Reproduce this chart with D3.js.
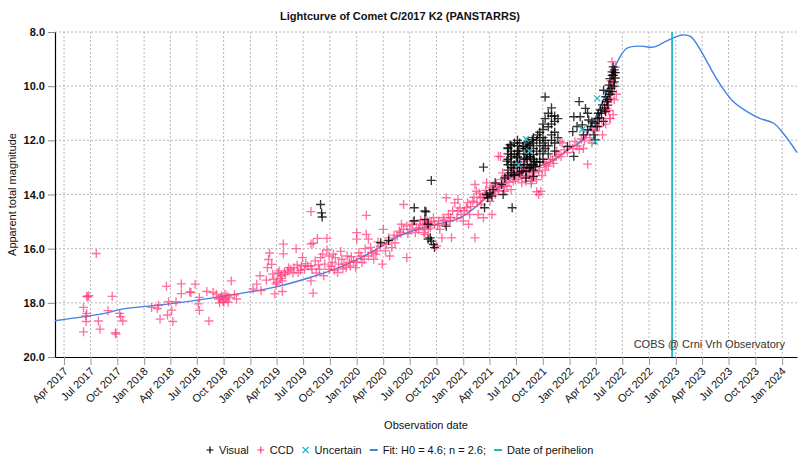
<!DOCTYPE html>
<html><head><meta charset="utf-8">
<script src="https://cdn.jsdelivr.net/npm/d3@7/dist/d3.min.js"></script>
<style>
body{margin:0;background:#fff;}
text{font-family:"Liberation Sans",Arial,Helvetica,sans-serif;}
</style>
</head><body>
<svg id="chart" width="800" height="466"></svg>
<script>
// ---------- data (decimal year, apparent magnitude) ----------
const titleText = "Lightcurve of Comet C/2017 K2 (PANSTARRS)";
const yTicks = [8, 10, 12, 14, 16, 18, 20];
const xDomain = ["2017-03-01", "2024-02-21"];
const perihelionDate = "2022-12-19";
const legendLabels = ["Visual", "CCD", "Uncertain", "Fit: H0 = 4.6; n = 2.6;", "Date of perihelion"];
const creditText = "COBS @ Crni Vrh Observatory";

const fitCurve = [
[2017.16,18.66],[2017.65,18.37],[2017.78,18.24],[2018.28,18.02],[2018.91,17.65],[2019.22,17.43],[2019.53,17.10],
[2019.85,16.67],[2020.16,16.08],[2020.38,15.56],[2020.55,15.31],[2020.72,15.13],[2020.96,14.88],[2021.08,14.57],
[2021.21,14.15],[2021.44,13.40],[2021.85,12.73],[2021.98,12.36],[2022.12,12.0],[2022.26,11.0],[2022.37,10.0],
[2022.45,9.1],[2022.54,8.6],[2022.67,8.52],[2022.79,8.56],[2022.92,8.32],[2023.06,8.11],[2023.14,8.17],
[2023.23,8.66],[2023.39,9.77],[2023.54,10.57],[2023.67,10.94],[2023.79,11.19],[2023.92,11.37],[2024.01,11.74],[2024.14,12.45]
];

const ccd = [
[2017.55,16.18],[2017.46,17.76],[2017.48,17.74],[2017.47,17.78],[2017.70,17.76],[2017.43,18.17],[2017.46,18.39],[2017.45,18.48],
[2017.455,18.69],[2017.43,19.07],[2017.57,18.67],[2017.585,18.97],[2017.66,18.29],[2017.77,18.39],[2017.78,18.51],[2017.80,18.67],
[2017.73,19.1],[2017.735,19.15],
[2018.07,18.17],[2018.135,18.09],[2018.125,18.21],[2018.15,18.6],[2018.22,18.45],[2018.26,18.27],[2018.27,18.69],[2018.21,17.39],
[2018.35,17.3],[2018.35,17.66],[2018.30,17.96],[2018.23,17.96],[2018.43,17.6],
[2018.48,17.31],[2018.44,17.62],[2018.52,17.8],[2018.51,18.04],[2018.52,18.28],[2018.61,18.67],[2018.59,17.58],[2018.65,17.62],
[2018.68,17.68],[2018.70,17.86],[2018.73,17.74],[2018.74,17.92],[2018.76,17.68],[2018.77,17.86],[2018.79,17.98],[2018.82,17.19],
[2018.85,17.70],[2018.87,17.86],[2018.80,17.8],[2018.75,17.98],[2018.71,18.0],[2018.78,17.75],[2018.72,17.82],
[2019.025,17.49],[2019.06,17.31],[2019.09,17.0],[2019.10,17.55],[2019.15,17.16],[2019.17,16.4],[2019.2,16.58],[2019.18,16.16],
[2019.16,16.7],[2019.21,16.94],[2019.22,17.13],[2019.24,17.31],[2019.27,16.82],[2019.29,17.0],[2019.30,17.19],[2019.32,16.88],
[2019.31,15.83],[2019.31,16.19],[2019.35,16.82],[2019.38,16.76],[2019.41,16.7],[2019.43,16.0],[2019.45,16.88],[2019.48,16.64],
[2019.49,16.33],[2019.51,16.76],[2019.54,16.64],[2019.57,15.83],[2019.58,16.76],[2019.57,17.19],[2019.23,17.67],[2019.30,17.58],
[2019.25,17.25],[2019.33,16.95],[2019.36,16.7],[2019.40,16.9],[2019.44,16.6],[2019.47,16.8],[2019.52,16.55],[2019.28,17.1],[2019.26,16.9],
[2019.57,14.63],[2019.57,16.64],[2019.61,16.45],[2019.65,16.76],[2019.66,16.33],[2019.69,17.0],[2019.70,16.57],[2019.74,16.27],
[2019.74,16.76],[2019.77,16.51],[2019.80,16.33],[2019.82,16.88],[2019.83,16.57],[2019.86,16.39],[2019.88,16.57],[2019.91,16.27],
[2019.94,16.64],[2019.97,16.45],[2019.72,15.62],[2019.63,15.62],[2019.59,15.8],[2019.59,17.64],[2019.62,16.9],[2019.68,16.2],
[2019.72,16.05],[2019.78,16.2],[2019.85,16.1],[2019.9,16.7],[2019.95,16.3],
[2019.64,16.6],[2019.76,16.65],[2019.79,16.8],[2019.87,16.75],[2019.93,16.5],[2019.99,16.7],
[2020.0,16.5],[2020.02,16.15],[2020.08,16.0],[2020.13,15.95],[2020.18,16.2],[2020.2,15.75],[2020.3,15.6],[2020.35,15.5],
[2020.42,15.1],[2020.48,15.45],[2020.53,15.0],[2020.58,15.3],[2020.6,14.95],[2020.62,15.15],[2020.66,15.1],
[2020.09,14.77],[2020.0,15.41],[2020.0,15.65],[2020.09,15.47],[2020.11,15.65],[2020.25,15.29],[2020.44,14.37],[2020.40,15.35],
[2020.31,16.27],[2020.24,16.57],[2020.47,16.33],
[2020.04,16.27],[2020.05,16.51],[2020.07,16.39],[2020.11,16.27],[2020.14,16.15],[2020.16,16.39],[2020.19,16.08],[2020.22,15.9],
[2020.27,16.08],[2020.28,15.84],[2020.33,15.96],[2020.36,15.78],[2020.38,15.53],[2020.41,15.41],[2020.44,15.29],[2020.47,15.16],
[2020.50,15.29],[2020.52,15.1],[2020.55,15.41],[2020.56,15.23],[2020.59,15.1],[2020.63,15.41],[2020.64,15.23],[2020.67,15.29],[2020.67,15.04],
[2020.64,15.47],[2020.66,14.98],[2020.69,15.23],[2020.72,14.86],[2020.73,15.1],[2020.75,15.9],[2020.77,14.98],[2020.78,15.29],
[2020.80,15.6],[2020.81,14.86],[2020.83,15.1],[2020.84,14.12],[2020.86,14.74],[2020.875,14.98],[2020.89,15.6],[2020.92,14.31],
[2020.94,14.86],[2020.95,14.61],[2020.95,14.18],[2020.98,14.74],[2021.0,14.98],[2021.03,14.49],[2021.05,15.1],[2021.06,14.74],
[2021.09,14.25],[2021.11,13.63],[2021.11,15.6],[2021.125,13.88],[2021.14,14.74],[2021.16,14.12],[2021.17,14.37],[2021.19,14.86],
[2021.20,14.0],[2021.22,13.57],[2021.25,14.25],[2021.27,14.74],[2021.28,13.69],[2021.30,14.0],[2021.33,12.59],[2021.34,13.75],
[2021.375,13.57],[2021.39,13.88],[2021.41,13.69],[2021.44,13.33],[2021.45,13.82],[2021.47,13.51],[2021.48,13.2],[2021.5,13.02],
[2021.52,13.39],[2021.53,12.83],[2021.55,13.57],[2021.56,13.14],[2021.58,12.77],[2021.59,13.33],[2021.61,13.02],[2021.625,12.59],
[2021.64,13.51],[2021.66,13.14],
[2020.70,15.0],[2020.76,15.15],[2020.82,14.95],[2020.88,14.85],[2020.9,14.6],[2020.97,14.5],[2021.01,14.6],[2021.04,14.3],
[2021.07,14.45],[2021.1,14.1],[2021.13,14.3],[2021.15,13.95],[2021.18,14.1],[2021.21,13.85],[2021.23,14.05],[2021.26,13.75],
[2021.29,13.9],[2021.31,13.6],[2021.33,13.85],[2021.36,13.45],[2021.38,13.7],[2021.4,13.35],[2021.43,13.55],[2021.46,13.25],
[2021.49,13.45],[2021.51,13.15],[2021.54,13.3],[2021.57,12.95],[2021.60,13.2],[2021.35,12.6],[2021.37,13.2],
[2021.59,13.51],[2021.65,13.39],[2021.71,13.15],[2021.78,12.9],[2021.84,12.72],[2021.90,12.53],[2021.93,12.1],[2021.69,13.9],
[2021.71,14.0],[2021.73,13.88],[2022.17,12.88],[2022.09,12.33],[2022.14,12.02],[2022.24,11.66],[2022.28,11.49],[2022.38,11.19],
[2022.35,10.82],[2022.39,10.45],[2022.40,10.02],[2022.41,9.6],[2022.40,9.1],[2022.21,12.1],[2022.31,11.8],
[2021.62,13.3],[2021.64,13.6],[2021.67,13.2],[2021.69,13.45],[2021.72,13.0],[2021.74,13.3],[2021.76,12.8],[2021.77,13.1],
[2021.80,12.95],[2021.82,12.7],[2021.85,12.85],[2021.87,12.6],[2021.88,12.4],[2021.91,12.05],[2021.92,12.6],[2021.95,12.35],
[2021.98,12.45],[2022.0,12.2],[2022.03,12.3],[2022.05,12.05],[2022.07,12.2],[2022.11,11.95],[2022.13,12.3],[2022.16,11.8],
[2022.19,11.9],[2022.22,11.6],[2022.25,11.5],[2022.27,11.3],[2022.30,11.2],[2022.33,10.9],[2022.34,11.4],[2022.36,10.6],
[2022.37,10.9],[2022.38,10.3],[2022.39,9.8],[2022.41,9.9],[2022.42,9.5],[2022.43,9.3],[2022.42,10.5],[2022.44,10.3],
[2022.41,11.05],[2022.38,11.2]
];

const visual = [
[2019.66,14.37],[2019.67,14.68],[2019.675,14.83],
[2020.225,15.78],[2020.30,15.7],[2020.54,14.49],[2020.65,14.64],[2020.64,14.92],[2020.54,14.97],[2020.67,15.65],
[2020.64,14.61],[2020.70,13.48],[2020.67,15.1],[2020.69,15.6],[2020.70,15.72],[2020.72,15.84],[2020.73,15.96],[2020.84,15.17],
[2021.19,12.99],[2021.20,14.49],[2021.22,14.0],[2021.25,13.94],[2021.27,14.06],[2021.23,14.12],[2021.28,13.82],[2021.30,13.57],
[2021.36,13.63],[2021.375,14.0],[2021.39,13.39],[2021.41,12.77],[2021.42,12.28],[2021.44,12.16],[2021.45,12.53],[2021.46,14.49],
[2021.47,13.02],[2021.48,13.26],[2021.5,12.65],[2021.52,12.4],[2021.53,12.9],[2021.55,13.14],[2021.56,12.22],[2021.58,12.65],
[2021.59,13.39],[2021.61,12.04],[2021.625,12.4],[2021.64,12.9],[2021.66,12.53],[2021.66,13.33],
[2021.42,12.3],[2021.42,12.5],[2021.42,12.7],[2021.42,12.9],[2021.42,13.1],[2021.42,13.3],
[2021.45,12.2],[2021.45,12.4],[2021.45,12.6],[2021.45,12.8],[2021.45,13.0],[2021.45,13.2],
[2021.48,12.1],[2021.48,12.5],[2021.48,12.9],[2021.48,13.3],
[2021.51,12.0],[2021.51,12.2],[2021.51,12.4],[2021.51,12.6],[2021.51,12.8],[2021.51,13.0],
[2021.53,12.1],[2021.53,12.5],[2021.53,12.9],[2021.53,13.2],
[2021.57,12.3],[2021.57,12.7],[2021.57,13.0],
[2021.60,12.1],[2021.60,12.3],[2021.60,12.5],[2021.60,12.7],[2021.60,12.9],
[2021.63,12.2],[2021.63,12.6],[2021.63,13.0],
[2021.66,11.9],[2021.66,12.1],[2021.66,12.3],[2021.66,12.7],[2021.66,12.9],[2021.66,13.1],
[2021.69,12.0],[2021.69,12.4],[2021.69,12.8],
[2021.72,11.7],[2021.72,11.9],[2021.72,12.2],[2021.72,12.5],[2021.72,12.8],
[2021.75,11.4],[2021.75,11.6],[2021.75,11.9],[2021.75,12.1],[2021.75,12.4],[2021.75,12.7],
[2021.77,10.4],[2021.77,11.2],[2021.77,12.0],[2021.77,12.3],
[2021.80,11.0],[2021.80,11.5],[2021.80,12.2],[2021.80,12.5],
[2021.83,10.8],[2021.83,11.1],[2021.83,11.4],[2021.83,11.8],[2021.83,12.0],
[2021.86,11.1],[2021.86,11.3],[2021.86,11.7],[2021.86,12.1],[2021.86,12.4],
[2021.89,11.2],[2021.89,11.9],
[2021.70,11.8],[2021.65,11.98],[2021.62,12.17],[2021.59,12.29],[2021.60,12.53],[2021.63,12.65],[2021.67,12.78],[2021.68,12.96],
[2021.59,13.14],[2021.62,13.02],
[2022.09,10.57],[2022.15,10.82],[2022.17,11.0],[2022.04,11.13],[2022.10,11.13],[2022.18,11.25],[2022.21,11.31],[2022.24,11.37],
[2022.26,11.49],[2022.23,11.8],[2022.24,11.98],[2022.03,11.68],[2022.07,11.49],[2022.12,11.43],[2022.13,11.8],[2022.17,11.61],
[2022.20,11.49],[2021.98,12.23],[2022.04,12.59],
[2022.32,10.15],[2022.34,10.39],[2022.35,10.57],[2022.37,9.96],[2022.38,9.72],[2022.40,9.47],[2022.41,9.29],[2022.40,9.6],
[2022.42,9.84],[2022.37,10.2],[2022.31,10.69],[2022.29,10.88],[2022.34,10.94],[2022.28,11.17],[2022.39,10.08],[2022.36,10.7],
[2022.33,10.8],[2022.30,11.0],[2022.38,10.3],[2022.41,9.6],[2022.42,9.4],[2022.43,9.5],[2022.43,9.7],[2022.42,10.0],
[2022.40,10.2],[2022.36,10.5],[2022.32,11.3],[2022.26,11.2],[2022.27,11.0]
];

const uncertain = [[2021.59,11.95],[2021.52,12.9],[2022.24,12.05],[2022.26,10.45],[2022.12,11.6],[2021.62,12.4]];

// ---------- helpers ----------
function yd(v){ const yr=Math.floor(v); const a=new Date(yr,0,1), b=new Date(yr+1,0,1); return new Date(+a + (v-yr)*(b-a)); }
const parse = d3.timeParse("%Y-%m-%d");

const W=800, H=466;
const m={left:55, right:797, top:32, bottom:357};
const svg=d3.select("#chart");
const x=d3.scaleTime().domain(xDomain.map(parse)).range([m.left,m.right]);
const y=d3.scaleLinear().domain([8,20]).range([m.top,m.bottom]);

const colors={visual:"#000000", ccd:"#ff3a78", unc:"#21b6cc", fit:"#3f82e8", peri:"#1fb9c6"};

// grid
const xt = d3.timeMonth.every(3).range(x.domain()[0], x.domain()[1]).filter(d=>d>=x.domain()[0]);
svg.append("g").selectAll("line").data(xt).join("line")
  .attr("x1",d=>x(d)).attr("x2",d=>x(d)).attr("y1",m.top).attr("y2",m.bottom)
  .attr("stroke","#b8b8b8").attr("stroke-width",1).attr("stroke-dasharray","2,2");
svg.append("g").selectAll("line").data(yTicks.slice(0,-1)).join("line")
  .attr("x1",m.left).attr("x2",m.right).attr("y1",d=>y(d)).attr("y2",d=>y(d))
  .attr("stroke","#b8b8b8").attr("stroke-width",1).attr("stroke-dasharray","2,2");

// x axis
const xAxis=svg.append("g").attr("transform",`translate(0,${m.bottom})`)
  .call(d3.axisBottom(x).tickValues(xt).tickFormat(d3.timeFormat("%b %Y")).tickSize(8).tickSizeOuter(0));
xAxis.select(".domain").attr("stroke","#000").attr("stroke-width",1.2);
xAxis.selectAll(".tick line").attr("stroke","#999");
xAxis.selectAll(".tick text").attr("font-size",11).attr("fill","#111")
  .attr("text-anchor","end").attr("x",0).attr("y",0).attr("dy",0)
  .attr("transform","translate(4,15) rotate(-45)");

// y axis
const yAxis=svg.append("g").attr("transform",`translate(${m.left},0)`)
  .call(d3.axisLeft(y).tickValues(yTicks).tickFormat(d3.format(".1f")).tickSize(7).tickSizeOuter(0).tickPadding(3));
yAxis.select(".domain").attr("stroke","#000").attr("stroke-width",1.2);
yAxis.selectAll(".tick line").attr("stroke","#888");
yAxis.selectAll(".tick text").attr("font-size",11).attr("font-weight","bold").attr("fill","#111");

// fit curve
const line=d3.line().x(d=>x(yd(d[0]))).y(d=>y(d[1])).curve(d3.curveCatmullRom.alpha(0.5));
svg.append("path").datum(fitCurve).attr("d",line).attr("fill","none")
  .attr("stroke",colors.fit).attr("stroke-width",1.4);

const plus="M-4.5,0H4.5M0,-4.5V4.5", cross="M-3,-3L3,3M-3,3L3,-3";
svg.append("g").selectAll("path").data(ccd).join("path")
  .attr("d",plus).attr("transform",d=>`translate(${x(yd(d[0]))},${y(d[1])})`)
  .attr("stroke",colors.ccd).attr("stroke-width",1.35).attr("stroke-opacity",0.72).attr("fill","none");
svg.append("g").selectAll("path").data(visual).join("path")
  .attr("d",plus).attr("transform",d=>`translate(${x(yd(d[0]))},${y(d[1])})`)
  .attr("stroke",colors.visual).attr("stroke-width",1.35).attr("stroke-opacity",0.8).attr("fill","none");
svg.append("g").selectAll("path").data(uncertain).join("path")
  .attr("d",cross).attr("transform",d=>`translate(${x(yd(d[0]))},${y(d[1])})`)
  .attr("stroke",colors.unc).attr("stroke-width",1.2).attr("fill","none");

// perihelion
const pd=parse(perihelionDate);
svg.append("line").attr("x1",x(pd)).attr("x2",x(pd)).attr("y1",m.top).attr("y2",m.bottom)
  .attr("stroke",colors.peri).attr("stroke-width",1.8);

// texts
svg.append("text").attr("x",400).attr("y",20).attr("text-anchor","middle")
  .attr("font-size",11).attr("font-weight","bold").attr("fill","#111").text(titleText);
svg.append("text").attr("x",(m.left+m.right)/2).attr("y",429).attr("text-anchor","middle")
  .attr("font-size",11).attr("fill","#111").text("Observation date");
svg.append("text").attr("transform",`translate(16,${(m.top+m.bottom)/2}) rotate(-90)`).attr("text-anchor","middle")
  .attr("font-size",11).attr("fill","#111").text("Apparent total magnitude");
svg.append("text").attr("x",785).attr("y",348).attr("text-anchor","end")
  .attr("font-size",11).attr("fill","#333").text(creditText);

// legend: sequential layout
const ly=450;
const items=[
  {sym:"M-3.5,0H3.5M0,-3.5V3.5",col:colors.visual,type:"sym"},
  {sym:"M-3.5,0H3.5M0,-3.5V3.5",col:colors.ccd,type:"sym"},
  {sym:cross,col:colors.unc,type:"sym"},
  {col:colors.fit,type:"line"},
  {col:colors.peri,type:"line"}
];
const lg=svg.append("g");
let mx=210;
items.forEach((it,i)=>{
  if(it.type==="sym") lg.append("path").attr("d",it.sym)
    .attr("transform",`translate(${mx},${ly})`).attr("stroke",it.col).attr("stroke-width",1.2).attr("fill","none");
  else lg.append("line").attr("x1",mx-4).attr("x2",mx+4).attr("y1",ly).attr("y2",ly).attr("stroke",it.col).attr("stroke-width",2);
  const t=lg.append("text").attr("x",mx+9).attr("y",ly+4).attr("font-size",11).attr("fill","#111").text(legendLabels[i]);
  mx += 9 + t.node().getComputedTextLength() + 12;
});
</script>
</body></html>
